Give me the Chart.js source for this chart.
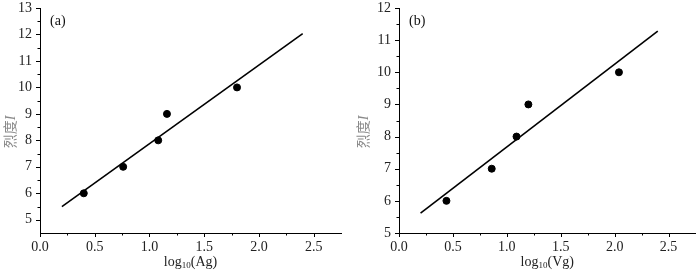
<!DOCTYPE html>
<html>
<head>
<meta charset="utf-8">
<script src="https://cdn.jsdelivr.net/npm/chart.js@4/dist/chart.umd.min.js"></script>
<style>
  html, body { margin: 0; padding: 0; background: #fff; }
  #wrap { width: 700px; height: 273px; display: flex; }
  .cell { width: 350px; height: 273px; position: relative; }
  canvas { display: block; }
</style>
</head>
<body>
<div id="wrap">
  <div class="cell"><canvas id="ca" width="350" height="273"></canvas></div>
  <div class="cell"><canvas id="cb" width="350" height="273"></canvas></div>
</div>
<script>
// ---- data ----
const intensityA = [6, 7, 8, 9, 10];
const logAg = [0.40, 0.76, 1.08, 1.16, 1.80];
const fitAx = [0.2, 2.4];
const fitAy = [5.5, 12.03];

const intensityB = [6, 7, 8, 9, 10];
const logVg = [0.44, 0.86, 1.09, 1.20, 2.04];
const fitBx = [0.2, 2.4];
const fitBy = [5.62, 11.28];

const xTickLabels = ['0.0', '0.5', '1.0', '1.5', '2.0', '2.5'];

const SERIF = "'Liberation Serif', 'Times New Roman', serif";
const CJK = "'Noto Sans CJK SC', sans-serif";

function pts(xs, ys) { return xs.map((x, i) => ({ x: x, y: ys[i] })); }

function isMult(v, step) { return Math.abs(v / step - Math.round(v / step)) < 1e-6; }

// custom tick marks + axis titles + panel label
const decorPlugin = {
  id: 'decor',
  afterDraw(chart, args, opts) {
    const ctx = chart.ctx;
    const xs = chart.scales.x, ys = chart.scales.y;
    const ca = chart.chartArea;
    ctx.save();
    ctx.strokeStyle = '#000';
    ctx.lineWidth = 1;
    // x ticks (outward, down)
    xs.ticks.forEach(t => {
      if (t.value > 2.5 + 1e-6) return;
      const px = Math.round(xs.getPixelForValue(t.value)) + 0.5;
      const major = isMult(t.value, 0.5);
      const len = major ? 4 : 2.5;
      ctx.beginPath();
      ctx.moveTo(px, ca.bottom);
      ctx.lineTo(px, ca.bottom + len);
      ctx.stroke();
    });
    // y ticks (outward, left)
    ys.ticks.forEach(t => {
      if (t.value < opts.yFirst - 1e-6) return;
      const py = Math.round(ys.getPixelForValue(t.value)) + 0.5;
      const major = isMult(t.value, 1);
      const len = major ? 4 : 2.5;
      ctx.beginPath();
      ctx.moveTo(ca.left, py);
      ctx.lineTo(ca.left - len, py);
      ctx.stroke();
    });

    // x axis title with subscript
    ctx.fillStyle = '#222';
    ctx.textBaseline = 'alphabetic';
    const parts = [
      { t: 'log', f: '14px ' + SERIF, dy: 0 },
      { t: '10', f: '9px ' + SERIF, dy: 2 },
      { t: '(' + opts.xVar + ')', f: '14px ' + SERIF, dy: 0 }
    ];
    let total = 0;
    parts.forEach(p => { ctx.font = p.f; p.w = ctx.measureText(p.t).width; total += p.w; });
    let cx = (ca.left + ca.right) / 2 - total / 2;
    const by = 266;
    ctx.textAlign = 'left';
    parts.forEach(p => { ctx.font = p.f; ctx.fillText(p.t, cx, by + p.dy); cx += p.w; });

    // y axis title rotated: 烈度I
    ctx.save();
    ctx.translate(opts.yTitleX, 132);
    ctx.rotate(-Math.PI / 2);
    ctx.fillStyle = '#8a8a8a';
    ctx.textBaseline = 'middle';
    ctx.font = '14px ' + CJK;
    const w1 = ctx.measureText('烈度').width;
    ctx.font = 'italic 14px ' + SERIF;
    const w2 = ctx.measureText('I').width;
    let sx = -(w1 + w2) / 2;
    ctx.font = '14px ' + CJK;
    ctx.fillText('烈度', sx, 0);
    ctx.font = 'italic 14px ' + SERIF;
    ctx.fillText('I', sx + w1, 1);
    ctx.restore();

    // panel label
    ctx.fillStyle = '#111';
    ctx.font = '14px ' + SERIF;
    ctx.textBaseline = 'middle';
    ctx.textAlign = 'left';
    ctx.fillText(opts.panel, ca.left + 10, 21);
    ctx.restore();
  }
};

function makeChart(id, xsData, ysData, fx, fy, yMin, yMax, yWidth, padRight, padTop, panel, xVar, yTitleX) {
  return new Chart(document.getElementById(id), {
    type: 'scatter',
    data: {
      datasets: [
        {
          type: 'line',
          data: pts(fx, fy),
          borderColor: '#000',
          borderWidth: 1.6,
          pointRadius: 0,
          fill: false,
          tension: 0,
          order: 2
        },
        {
          data: pts(xsData, ysData),
          backgroundColor: '#000',
          borderColor: '#000',
          pointRadius: 3.5,
          pointHoverRadius: 3.5,
          showLine: false,
          order: 1
        }
      ]
    },
    options: {
      responsive: false,
      animation: false,
      events: [],
      layout: { padding: { left: 0, top: padTop, right: padRight, bottom: 0 } },
      plugins: {
        legend: { display: false },
        tooltip: { enabled: false },
        decor: { panel: panel, xVar: xVar, yFirst: yMin === 4.5 ? 5 : yMin, yTitleX: yTitleX }
      },
      scales: {
        x: {
          type: 'linear',
          min: 0,
          max: 2.75,
          afterFit(s) { s.height = 40; s.paddingLeft = 0; s.paddingRight = 0; },
          grid: { display: false, drawTicks: false },
          border: { display: true, color: '#000', width: 1 },
          ticks: {
            stepSize: 0.25,
            autoSkip: false,
            maxRotation: 0,
            padding: 6,
            color: '#222',
            font: { family: SERIF, size: 14 },
            callback(v) {
              if (v > 2.5 + 1e-6) return '';
              if (!isMult(v, 0.5)) return '';
              return xTickLabels[Math.round(v / 0.5)];
            }
          }
        },
        y: {
          type: 'linear',
          min: yMin,
          max: yMax,
          afterFit(s) { s.width = yWidth; s.paddingTop = 0; s.paddingBottom = 0; },
          grid: { display: false, drawTicks: false },
          border: { display: true, color: '#000', width: 1 },
          ticks: {
            stepSize: 0.5,
            autoSkip: false,
            padding: 8,
            color: '#222',
            font: { family: SERIF, size: 14 },
            callback(v) {
              if (!isMult(v, 1) || v < 5 - 1e-6) return '';
              return String(Math.round(v));
            }
          }
        }
      }
    },
    plugins: [decorPlugin]
  });
}

makeChart('ca', logAg, intensityA, fitAx, fitAy, 4.5, 13, 40, 9, 8, '(a)', 'Ag', 10);
makeChart('cb', logVg, intensityB, fitBx, fitBy, 5, 12, 49, 1, 8, '(b)', 'Vg', 13);
</script>
</body>
</html>
